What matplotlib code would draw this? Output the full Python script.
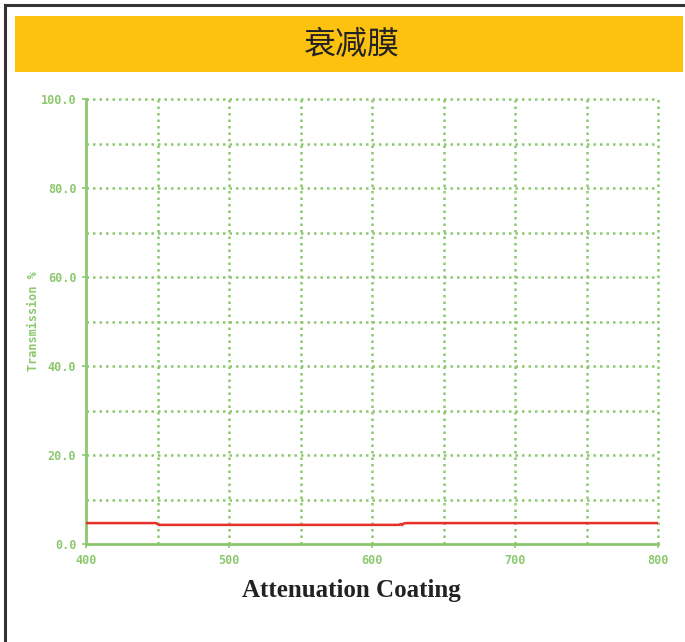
import matplotlib
matplotlib.use("Agg")
import matplotlib.pyplot as plt
from matplotlib.patches import Rectangle
from matplotlib.lines import Line2D

title_cn = "衰减膜"
caption = "Attenuation Coating"
y_label = "Transmission %"
wavelength = [400, 449, 451, 617, 619, 620, 621, 622, 624, 800]
transmission = [4.7, 4.7, 4.3, 4.3, 4.3, 4.5, 4.25, 4.6, 4.7, 4.7]
x_ticks = [400, 500, 600, 700, 800]
y_ticks = [0, 20, 40, 60, 80, 100]
x_grid = [450, 500, 550, 600, 650, 700, 750, 800]
y_grid = [10, 20, 30, 40, 50, 60, 70, 80, 90, 100]

green = "#8cc86e"
W, H = 685, 642
fig = plt.figure(figsize=(W / 100, H / 100), dpi=100)
fig.patch.set_facecolor("white")

# outer frame (top and left)
fig.add_artist(Line2D([5 / W, 5 / W], [0, 1 - 5 / H], transform=fig.transFigure, color="#333333", lw=2.2))
fig.add_artist(Line2D([5 / W, 1], [1 - 5 / H, 1 - 5 / H], transform=fig.transFigure, color="#333333", lw=2.2))

# yellow banner
fig.add_artist(Rectangle((15 / W, 1 - 72 / H), (683 - 15) / W, (72 - 16) / H,
                         transform=fig.transFigure, facecolor="#fdc20f", edgecolor="none"))
fig.text(352 / W, 1 - 45 / H, title_cn, ha="center", va="center", fontsize=23,
         family=["Noto Sans CJK SC", "DejaVu Sans"], color="#222222")

ax = fig.add_axes([86 / W, 1 - 544 / H, (658 - 86) / W, (544 - 99) / H])
ax.set_xlim(400, 800)
ax.set_ylim(0, 100)

for xv in x_grid:
    ax.axvline(xv, color=green, lw=1.8, ls=(0, (1, 1.6)), zorder=1, clip_on=False)
for yv in y_grid:
    ax.axhline(yv, color=green, lw=1.8, ls=(0, (1, 1.6)), zorder=1, clip_on=False)

ax.plot(wavelength, transmission, color="#e8302a", lw=1.8, zorder=3)

for s in ["top", "right"]:
    ax.spines[s].set_visible(False)
for s in ["left", "bottom"]:
    ax.spines[s].set_color(green)
    ax.spines[s].set_linewidth(2)

ax.set_xticks(x_ticks)
ax.set_yticks(y_ticks)
ax.set_xticklabels([str(v) for v in x_ticks])
ax.set_yticklabels([f"{v:.1f}" for v in y_ticks])
ax.tick_params(axis="both", colors=green, length=3, width=1.2, labelsize=8.5, pad=4)
for lab in ax.get_xticklabels() + ax.get_yticklabels():
    lab.set_family("DejaVu Sans Mono")
    lab.set_fontweight("bold")
    lab.set_color(green)

ax.set_ylabel(y_label, color=green, fontsize=8.5, family="DejaVu Sans Mono", fontweight="bold")
ax.yaxis.set_label_coords(-0.08, 0.5)

fig.text(351 / W, 1 - 591 / H, caption, ha="center", va="center", fontsize=18,
         family="Liberation Serif", fontweight="bold", color="#222222")

fig.savefig("out.png", dpi=100)
